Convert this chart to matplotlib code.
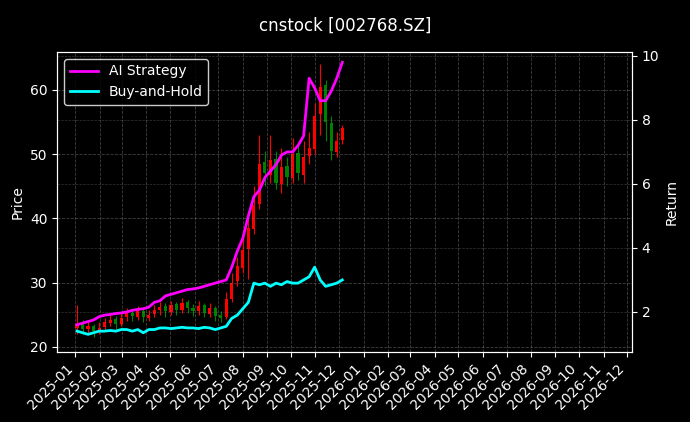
import matplotlib
matplotlib.use("Agg")
import matplotlib.pyplot as plt
import matplotlib.dates as mdates
import numpy as np
import pandas as pd

plt.style.use("dark_background")

dates = pd.date_range("2025-01-03", periods=49, freq="W-FRI")
closes = [23.5, 22.8, 23.2, 22.5, 23.0, 23.8, 24.2, 23.6, 24.5, 25.2, 24.8, 25.5,
          24.6, 25.0, 25.8, 26.2, 25.5, 26.5, 25.8, 26.8, 26.0, 25.6, 26.4, 25.2, 26.0,
          24.8, 24.5, 27.5, 30.0, 32.5, 35.0, 38.5, 42.0, 48.5, 47.0, 49.0, 45.5, 48.0,
          46.5, 50.0, 47.0, 49.5, 51.0, 56.0, 60.5, 55.0, 50.5, 52.0, 54.0]
opens = [23.0, 23.6, 22.7, 23.3, 22.4, 23.1, 23.7, 24.3, 23.5, 24.6, 25.3, 24.7,
         25.6, 24.5, 25.1, 25.7, 26.3, 25.4, 26.6, 25.7, 26.9, 26.1, 25.5, 26.5, 25.1,
         26.1, 24.9, 24.6, 27.4, 30.2, 32.3, 35.2, 38.3, 42.3, 48.7, 46.8, 49.2, 45.3,
         48.2, 46.3, 50.2, 46.8, 49.7, 50.8, 56.3, 60.7, 54.8, 50.3, 52.2]
highs = [26.5, 24.2, 24.0, 23.6, 23.8, 24.5, 25.0, 24.8, 25.3, 26.0, 25.8, 26.3,
         26.2, 25.8, 26.5, 27.0, 26.8, 27.2, 27.0, 27.6, 27.3, 26.6, 27.1, 26.8, 26.8,
         26.4, 25.5, 28.5, 31.5, 34.0, 37.5, 40.0, 45.0, 53.0, 50.5, 53.0, 50.5, 51.0,
         49.5, 52.5, 51.5, 52.0, 53.5, 58.0, 64.0, 61.5, 56.0, 53.5, 54.5]
lows = [22.0, 22.0, 22.2, 21.6, 22.0, 22.6, 23.2, 22.8, 23.2, 24.0, 24.0, 24.2,
        23.8, 24.0, 24.6, 25.0, 24.6, 25.0, 25.0, 25.2, 25.3, 24.8, 25.0, 24.6, 24.6,
        24.0, 23.8, 24.3, 27.0, 29.5, 31.5, 30.5, 37.5, 41.5, 45.0, 45.5, 44.5, 44.0,
        45.0, 45.5, 46.0, 45.5, 48.5, 50.0, 53.0, 52.0, 49.0, 49.5, 51.5]
ai_ret = [1.6, 1.65, 1.7, 1.75, 1.85, 1.9, 1.92, 1.95, 1.97, 2.0, 2.05, 2.08, 2.1, 2.15,
          2.3, 2.35, 2.5, 2.55, 2.6, 2.65, 2.7, 2.72, 2.75, 2.8, 2.85, 2.9, 2.95, 3.0,
          3.4, 3.9, 4.3, 5.0, 5.6, 5.8, 6.2, 6.4, 6.6, 6.9, 7.0, 7.0, 7.2, 7.5,
          9.3, 9.0, 8.6, 8.6, 8.9, 9.3, 9.8]
bh_ret = [1.4, 1.35, 1.3, 1.35, 1.4, 1.4, 1.42, 1.4, 1.45, 1.45,
          1.4, 1.45, 1.35, 1.45, 1.45, 1.5, 1.5, 1.48, 1.5, 1.52,
          1.5, 1.5, 1.48, 1.52, 1.5, 1.45, 1.5, 1.55, 1.8, 1.9,
          2.1, 2.3, 2.9, 2.85, 2.9, 2.8, 2.9, 2.85, 2.95, 2.9,
          2.9, 3.0, 3.1, 3.4, 3.0, 2.8, 2.85, 2.9, 3.0]

fig = plt.figure(figsize=(6.9, 4.22), dpi=100, facecolor="black")
ax = fig.add_axes([0.083, 0.166, 0.833, 0.711])
ax.set_facecolor("black")
x = mdates.date2num(dates)
for xi, o, c, h, l in zip(x, opens, closes, highs, lows):
    col = "red" if c >= o else "green"
    ax.vlines(xi, l, h, color=col, linewidth=0.8)
    ax.bar(xi, abs(c - o) if abs(c - o) > 0.1 else 0.1, bottom=min(o, c), width=4,
           color=col, linewidth=0)
ax.set_ylim(19.2, 65.9)
ax.set_ylabel("Price")
ax.grid(True, linestyle="--", color="gray", alpha=0.5, linewidth=0.6)

ax2 = ax.twinx()
l1, = ax2.plot(dates, ai_ret, color="magenta", linewidth=2, label="AI Strategy")
l2, = ax2.plot(dates, bh_ret, color="cyan", linewidth=2, label="Buy-and-Hold")
ax2.set_ylim(0.75, 10.125)
ax2.set_ylabel("Return")
ax2.grid(True, linestyle="--", color="gray", alpha=0.4, linewidth=0.5)

ax.set_xlim(mdates.date2num(pd.Timestamp("2024-12-09")), mdates.date2num(pd.Timestamp("2026-12-07")))
ax.xaxis.set_major_locator(mdates.MonthLocator())
ax.xaxis.set_major_formatter(mdates.DateFormatter("%Y-%m"))
plt.setp(ax.get_xticklabels(), rotation=45, ha="right")
leg = ax2.legend(handles=[l1, l2], loc="upper left", facecolor="black", edgecolor="white")
fig.suptitle("cnstock [002768.SZ]", y=0.96)
fig.savefig("out.png", dpi=100, facecolor="black")
